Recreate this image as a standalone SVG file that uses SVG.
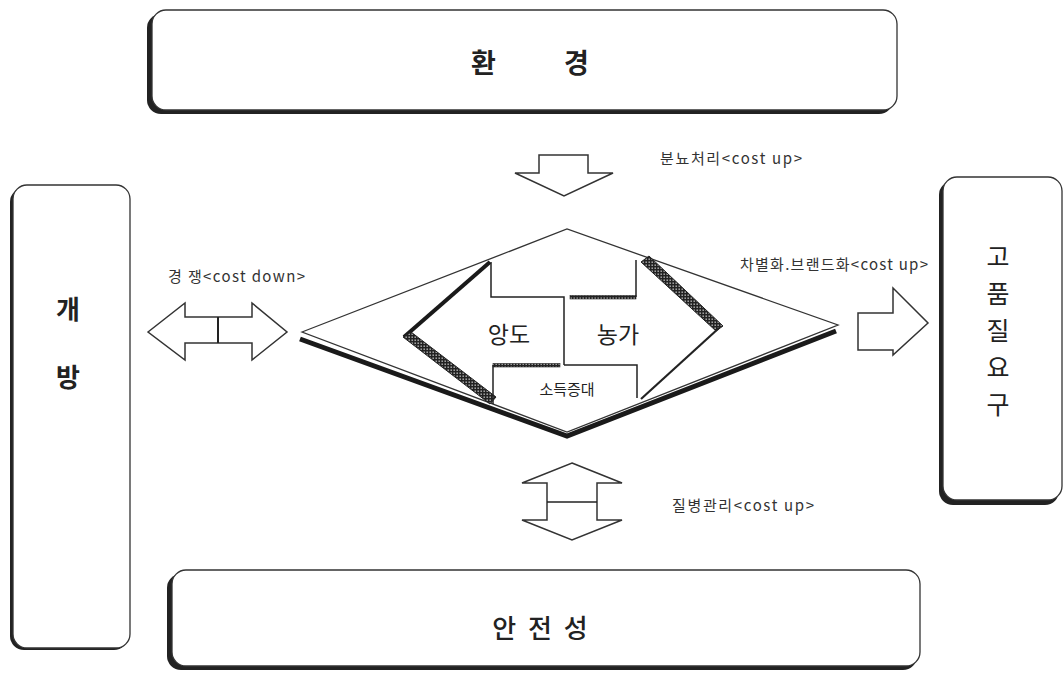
<svg xmlns="http://www.w3.org/2000/svg" width="1064" height="674" viewBox="0 0 1064 674">
<style>
.box{fill:#fff;stroke:#333;stroke-width:1.3}
.shd{fill:#222}
.ttl{font-family:"Noto Sans CJK KR","Noto Sans",sans-serif;font-size:26px;font-weight:500;fill:#222;text-anchor:middle;dominant-baseline:central}
.lbl{font-family:"Noto Sans CJK KR","Liberation Sans",sans-serif;font-size:15px;fill:#333;dominant-baseline:central}
.arr{fill:#fff;stroke:#333;stroke-width:1.5;stroke-linejoin:miter}
.ln{fill:none;stroke:#222;stroke-width:1.5}
.in{font-family:"Noto Sans CJK KR","Noto Sans",sans-serif;fill:#222;text-anchor:middle;dominant-baseline:central}
</style>
<defs>
<pattern id="chk" width="3" height="3" patternUnits="userSpaceOnUse">
<rect width="3" height="3" fill="#222"/>
<rect x="0.5" y="0.5" width="1.4" height="1.4" fill="#bbb"/>
</pattern>
</defs>
<rect width="1064" height="674" fill="#fff"/>

<g id="node-env">
<rect class="shd" x="147" y="14" width="746" height="100" rx="14"/>
<rect class="box" x="152" y="10" width="745" height="100" rx="14"/>
<text class="ttl" x="530" y="61" style="font-size:27px;font-weight:bold" word-spacing="62">환 경</text>
</g>

<g id="node-open">
<rect class="shd" x="10" y="188" width="118" height="462" rx="14"/>
<rect class="box" x="13" y="185" width="117" height="463" rx="14"/>
<text class="ttl" x="68" y="307" style="font-weight:bold">개</text>
<text class="ttl" x="68" y="375" style="font-weight:bold">방</text>
</g>

<g id="node-quality">
<rect class="shd" x="939" y="181" width="120" height="324" rx="14"/>
<rect class="box" x="943" y="177" width="119" height="323" rx="14"/>
<text class="ttl" x="998" y="255" style="font-weight:400;font-size:25px">고</text>
<text class="ttl" x="998" y="292" style="font-weight:400;font-size:25px">품</text>
<text class="ttl" x="998" y="329" style="font-weight:400;font-size:25px">질</text>
<text class="ttl" x="998" y="366" style="font-weight:400;font-size:25px">요</text>
<text class="ttl" x="998" y="403" style="font-weight:400;font-size:25px">구</text>
</g>

<g id="node-safety">
<rect class="shd" x="167" y="574" width="750" height="96" rx="14"/>
<rect class="box" x="172" y="570" width="748" height="96" rx="14"/>
<text class="ttl" x="540" y="626" word-spacing="6">안 전 성</text>
</g>

<g id="node-center">
<polyline points="300,339 567,436 836,331" fill="none" stroke="#1a1a1a" stroke-width="5"/>
<polygon points="302,332 567,229 838,325 567,432" fill="#fff" stroke="#333" stroke-width="1.3"/>
<!-- left piece -->
<line x1="404" y1="337" x2="490" y2="262" style="stroke:#1a1a1a;stroke-width:4"/>
<polygon points="403,337 490,404 496,397 411,332" fill="url(#chk)" stroke="#222" stroke-width="1"/>
<polyline class="ln" points="491,262 491,297 564,297 564,365"/>
<!-- right piece -->
<rect x="570" y="295.5" width="66" height="3.5" fill="url(#chk)" stroke="#222" stroke-width="0.6"/>
<line class="ln" x1="636" y1="260" x2="636" y2="297"/>
<polygon points="641,262 649,256 723,326 716,331" fill="url(#chk)" stroke="#222" stroke-width="1"/>
<line x1="719" y1="328" x2="641" y2="399" style="stroke:#222;stroke-width:2.2"/>
<polyline class="ln" points="564,365 637,365 637,398"/>
<!-- income box -->
<rect x="493" y="363.5" width="67" height="3.5" fill="url(#chk)" stroke="#222" stroke-width="0.6"/>
<line class="ln" x1="493" y1="365" x2="493" y2="404"/>
<text class="in" x="509" y="333" font-size="23">앙도</text>
<text class="in" x="618" y="333" font-size="23">농가</text>
<text class="in" x="567" y="388" font-size="15">소득증대</text>
</g>

<g id="connectors">
<polygon class="arr" points="539,155 588,155 588,173 613,173 564,196 515,173 539,173"/>
<polygon class="arr" points="148,332 185,303 185,317 252,317 252,303 287,332 252,360 252,343 185,343 185,360"/>
<line x1="218" y1="317" x2="218" y2="343" stroke="#222" stroke-width="2"/>
<polygon class="arr" points="858,313 893,313 893,288 928,323 893,355 893,350 858,350"/>
<polygon class="arr" points="572,463 622,483 597,483 597,520 622,520 572,540 522,520 547,520 547,483 522,483"/>
<line x1="547" y1="502" x2="597" y2="502" stroke="#222" stroke-width="1.5"/>
<text class="lbl" x="660" y="157" textLength="142" lengthAdjust="spacing">분뇨처리&lt;cost  up&gt;</text>
<text class="lbl" x="168" y="275" textLength="137" lengthAdjust="spacing">경 쟁&lt;cost  down&gt;</text>
<text class="lbl" x="740" y="263" textLength="188" lengthAdjust="spacing">차별화.브랜드화&lt;cost  up&gt;</text>
<text class="lbl" x="672" y="504" textLength="142" lengthAdjust="spacing">질병관리&lt;cost  up&gt;</text>
</g>
</svg>
